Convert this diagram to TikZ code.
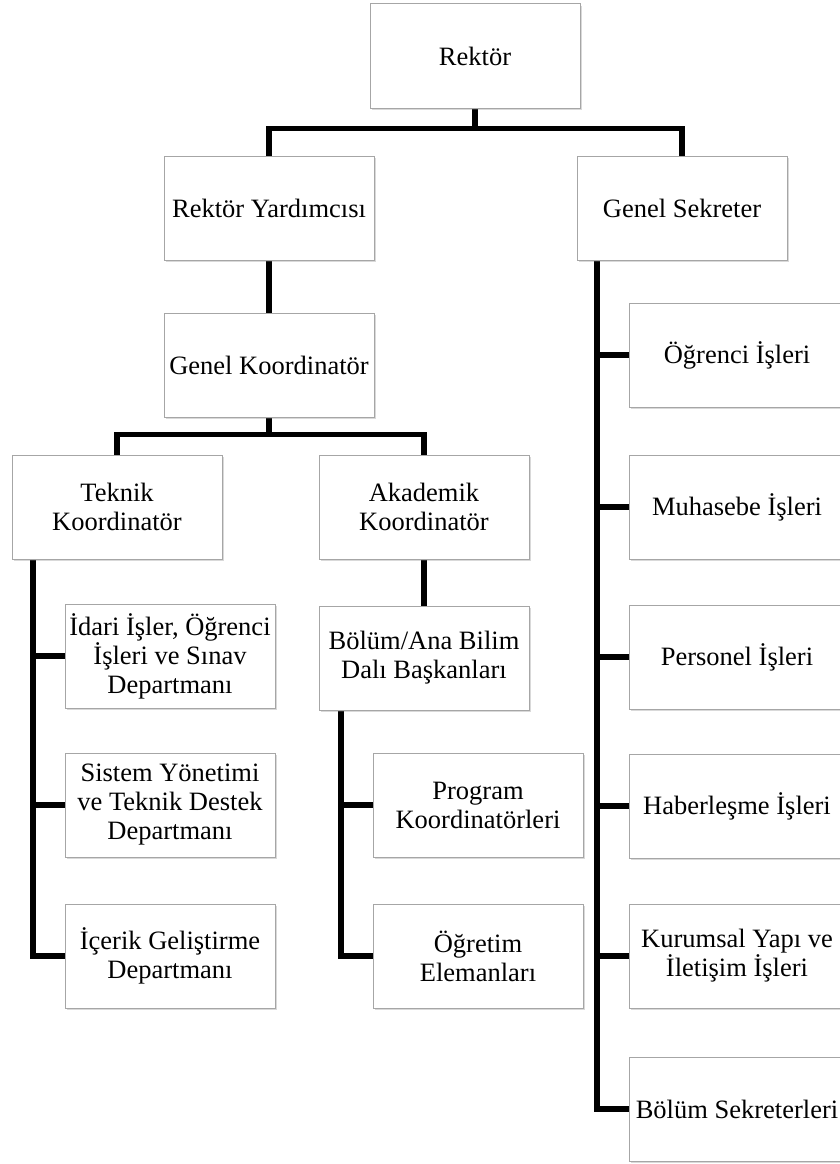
\documentclass[tikz,border=0pt]{standalone}
\usepackage{fontspec}
\setmainfont{Liberation Serif}
\usetikzlibrary{shadows,backgrounds}

\begin{document}
\begin{tikzpicture}[x=1pt, y=-1pt,
  box/.style = {shape=rectangle, draw=gray!70, line width=1pt, fill=white,
    align=center, minimum width=210pt, minimum height=104pt, inner sep=2pt,
    font=\fontsize{26.5}{29}\selectfont,
    drop shadow={opacity=0.3, shadow xshift=1.5pt, shadow yshift=-2pt}},
  link/.style = {line width=5.5pt, line join=miter}]
  \useasboundingbox (0,0) rectangle (840,1164);

  \node[box] (rektor) at (475,56) {Rektör};
  \node[box] (ryard) at (269,208) {Rektör Yardımcısı};
  \node[box] (gsek) at (682,208) {Genel Sekreter};
  \node[box] (gkoor) at (269,365) {Genel Koordinatör};
  \node[box] (tkoor) at (117,507) {Teknik\\Koordinatör};
  \node[box] (akoor) at (424,507) {Akademik\\Koordinatör};

  % teknik taraf
  \node[box] (idari) at (170,656) {İdari İşler, Öğrenci\\İşleri ve Sınav\\Departmanı};
  \node[box] (sistem) at (170,805) {Sistem Yönetimi\\ve Teknik Destek\\Departmanı};
  \node[box] (icerik) at (170,956) {İçerik Geliştirme\\Departmanı};

  % akademik taraf
  \node[box] (bolum) at (424,658) {Bölüm/Ana Bilim\\Dalı Başkanları};
  \node[box] (prog) at (478,805) {Program\\Koordinatörleri};
  \node[box] (ogret) at (478,956) {Öğretim\\Elemanları};

  % genel sekreterlik
  \foreach \n/\y/\t in {ogrenci/355/Öğrenci İşleri, muhasebe/507/Muhasebe İşleri,
      personel/657/Personel İşleri, haber/806/Haberleşme İşleri,
      kurumsal/956/{Kurumsal Yapı ve\\İletişim İşleri}, bsek/1109/Bölüm Sekreterleri}
    \node[box, minimum width=216pt] (\n) at (737,\y) {\t};

  \coordinate (tbus) at (33,0);
  \coordinate (bbus) at (341,0);
  \coordinate (sbus) at (597,0);

  \begin{scope}[on background layer]
    \draw[link] (rektor.south) -- ++(0,20) -| (ryard.north);
    \draw[link] (rektor.south) -- ++(0,20) -| (gsek.north);
    \draw[link] (ryard) -- (gkoor);
    \draw[link] (gkoor.south) -- ++(0,17) -| (tkoor.north);
    \draw[link] (gkoor.south) -- ++(0,17) -| (akoor.north);
    \draw[link] (akoor) -- (bolum);

    \draw[link] (tkoor.south -| tbus) |- (icerik.west);
    \foreach \n in {idari,sistem}
      \draw[link] (tbus |- \n.west) -- (\n.west);

    \draw[link] (bolum.south -| bbus) |- (ogret.west);
    \draw[link] (bbus |- prog.west) -- (prog.west);

    \draw[link] (gsek.south -| sbus) |- (bsek.west);
    \foreach \n in {ogrenci,muhasebe,personel,haber,kurumsal}
      \draw[link] (sbus |- \n.west) -- (\n.west);
  \end{scope}
\end{tikzpicture}
\end{document}
